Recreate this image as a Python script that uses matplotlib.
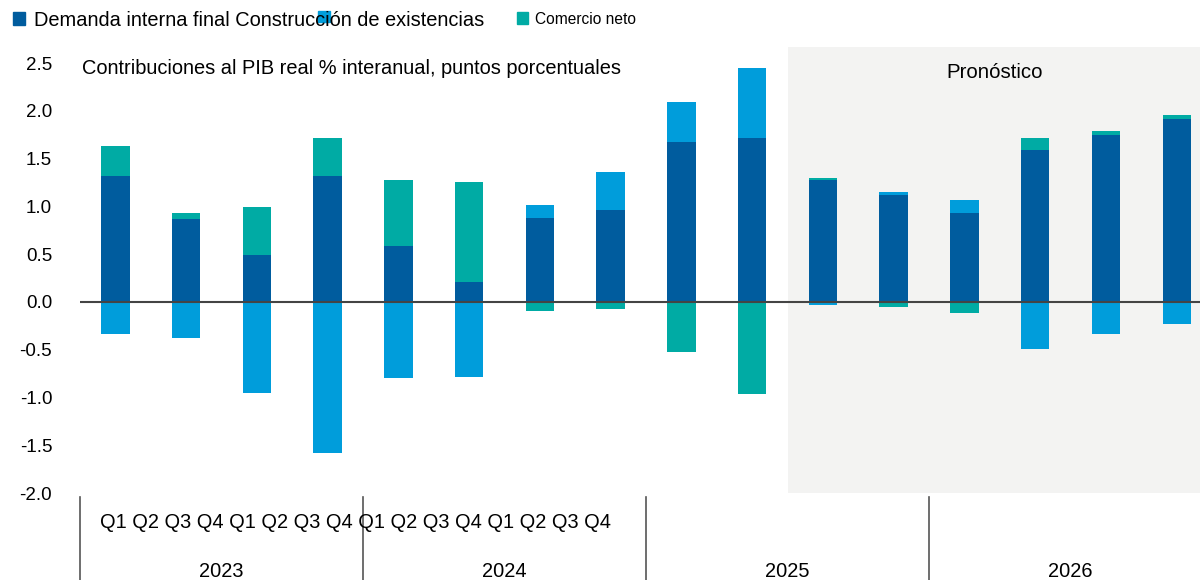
import numpy as np
import matplotlib.pyplot as plt
from matplotlib.patches import Rectangle
from matplotlib.ticker import FormatStrFormatter
import matplotlib.transforms as mtransforms

plt.rcParams['font.family'] = ['Liberation Sans', 'DejaVu Sans']

# contribuciones trimestrales, 2023 Q1 - 2026 Q4
years = ['2023', '2024', '2025', '2026']
quarters = ['Q1', 'Q2', 'Q3', 'Q4'] * 4
demanda = [1.32, 0.87, 0.49, 1.32, 0.59, 0.21, 0.88, 0.96,
           1.68, 1.72, 1.28, 1.12, 0.93, 1.59, 1.75, 1.915]
existencias = [-0.34, -0.38, -0.95, -1.58, -0.80, -0.79, 0.14, 0.40,
               0.41, 0.73, -0.03, 0.03, 0.14, -0.49, -0.33, -0.23]
comercio = [0.31, 0.06, 0.50, 0.40, 0.69, 1.05, -0.09, -0.07,
            -0.52, -0.96, 0.02, -0.05, -0.12, 0.13, 0.04, 0.04]
forecast_start = 10  # 2025 Q3

c_dem = '#005c9e'
c_exi = '#009ddb'
c_com = '#00aba4'

W, H = 1200, 580
fs = 14.4
fig = plt.figure(figsize=(12, 5.8), dpi=100)
ax = fig.add_axes([80 / W, (H - 493) / H, (W - 80) / W, (493 - 47) / H])

x = np.arange(len(demanda))
ax.set_xlim(-0.5, 15.33)
ax.set_ylim(-2.0, 2.67)

# zona de pronóstico
ax.axvspan(forecast_start - 0.5, 15.5, color='#f3f3f2', lw=0, zorder=0)

# barras apiladas: positivos hacia arriba, negativos hacia abajo
pos = np.zeros(len(x))
neg = np.zeros(len(x))
for serie, color in [(demanda, c_dem), (existencias, c_exi), (comercio, c_com)]:
    v = np.array(serie)
    base = np.where(v >= 0, pos, neg)
    ax.bar(x, v, 0.4, bottom=base, color=color, lw=0, zorder=2)
    pos = np.where(v >= 0, pos + v, pos)
    neg = np.where(v < 0, neg + v, neg)

ax.axhline(0, color='#444444', lw=1.5, zorder=3)

for s in ax.spines.values():
    s.set_visible(False)
ax.set_xticks([])
ax.set_yticks(np.arange(-2.0, 2.51, 0.5))
ax.yaxis.set_major_formatter(FormatStrFormatter('%.1f'))
ax.tick_params(axis='y', length=0, pad=20, labelsize=13.5)

# eje de categorías: trimestres y años
trans = mtransforms.blended_transform_factory(ax.transData, ax.transAxes)
for xs in [-0.5, 3.5, 7.5, 11.5, 15.5]:
    ax.plot([xs, xs], [-0.01, -0.2], color='#555555', lw=1.2,
            transform=trans, clip_on=False)
for i, yr in enumerate(years):
    ax.text(4 * i + 1.5, -0.175, yr, transform=trans, ha='center',
            va='center', fontsize=fs)
fig.text(100 / W, 1 - 523 / H, ' '.join(quarters), ha='left', va='center',
         fontsize=fs)

fig.text(82 / W, 1 - 68 / H,
         'Contribuciones al PIB real % interanual, puntos porcentuales',
         ha='left', va='center', fontsize=fs)
fig.text(995 / W, 1 - 72 / H, 'Pronóstico', ha='center', va='center',
         fontsize=14.7)

# leyenda
def square(x0, y0, w, h, color):
    fig.add_artist(Rectangle((x0 / W, 1 - (y0 + h) / H), w / W, h / H,
                             color=color, transform=fig.transFigure))

square(13, 12, 12, 13, c_dem)
fig.text(34 / W, 1 - 21 / H,
         'Demanda interna final Construcción de existencias',
         ha='left', va='center', fontsize=fs)
square(318, 11, 12, 11, c_exi)
square(517, 12, 11, 12, c_com)
fig.text(535 / W, 1 - 19 / H, 'Comercio neto', ha='left', va='center',
         fontsize=11.2)

plt.savefig('out.png', dpi=100)
